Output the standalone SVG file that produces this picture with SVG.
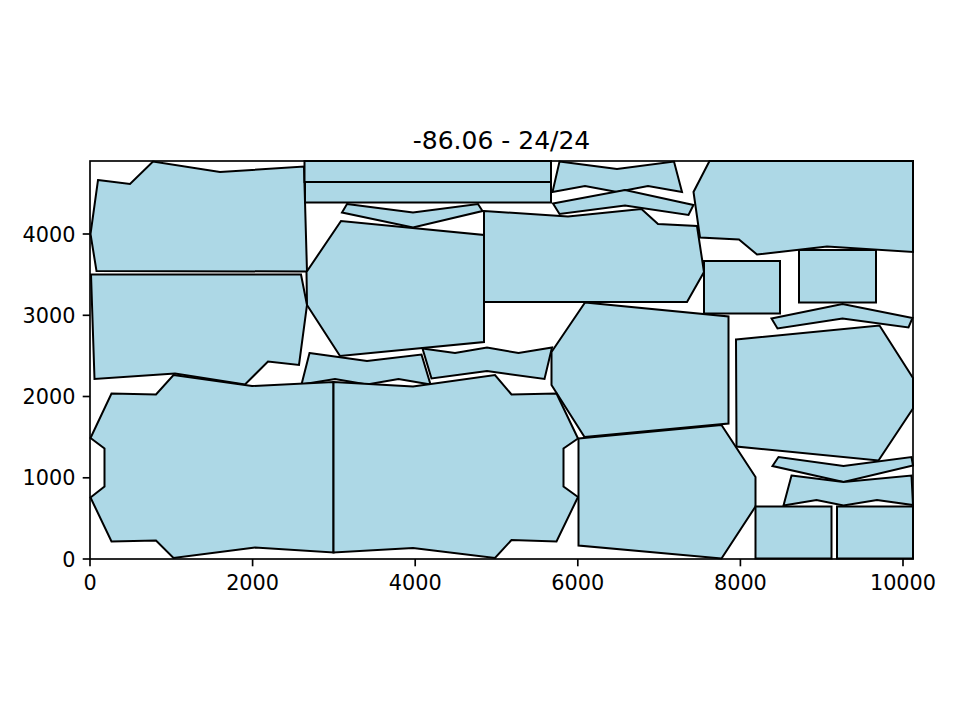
<svg xmlns="http://www.w3.org/2000/svg" width="960" height="720" viewBox="0 0 960 720">
<style>
.p{fill:#add8e6;stroke:#000;stroke-width:2;stroke-linejoin:miter}
.ax{fill:none;stroke:#000;stroke-width:1.67}
.tk{stroke:#000;stroke-width:1.67}
.t{font-family:"DejaVu Sans",sans-serif;font-size:20.8px;fill:#000}
</style>
<rect width="960" height="720" fill="#fff"/>
<g id="pieces">
<polygon id="n1" class="p" points="98,180 130,184 153,161.5 220,172 304,166.5 307,271.5 96.5,271 90.5,234"/>
<polygon id="n2" class="p" points="91,274.5 301,274.5 307,305 299,365 268,361.5 245,384.5 175,373.5 94.5,379"/>
<rect id="n3" class="p" x="304.5" y="161" width="246.5" height="21"/>
<rect id="n4" class="p" x="305" y="182" width="246" height="20.5"/>
<polygon id="n5" class="p" points="347,204 413,212.5 478,204 482.5,211 413,227.5 342,212.5"/>
<polygon id="n6" class="p" points="306.5,272 341,221 484,235 484,342 340,356 307,305"/>
<polygon id="n7" class="p" points="559.5,161.5 617,169 674,161.5 682,192 648,186 617,192 585,186 552.5,192"/>
<polygon id="n8" class="p" points="553,203.5 625,190 693.5,205 688.5,215 625,205.5 559.5,214"/>
<polygon id="n9" class="p" points="484,211 568,216.5 641.5,209 658,224 697,226 704,272 687,302 484,302"/>
<polygon id="n10" class="p" points="709.5,161 913,161 913,252 827,246.5 757,254.5 739,239.5 700,237.5 693.5,192"/>
<rect id="n11" class="p" x="704" y="261" width="76" height="52.5"/>
<rect id="n12" class="p" x="799" y="250" width="77" height="52.5"/>
<polygon id="n13" class="p" points="771.5,318.5 842.5,304 912.5,318 908.5,327.5 842.5,318.5 777.5,328.5"/>
<polygon id="n14" class="p" points="585,302.5 728.5,316.5 728.5,423.5 584.5,437 551.5,385 551.5,352"/>
<polygon id="n15" class="p" points="736,339.5 879.5,325.5 913,378 913,408.5 878.5,460.5 736.5,446.5"/>
<polygon id="n16" class="p" points="309.5,353 367,361 421.5,354.5 430.5,384.5 398.5,379 367,384.5 335,379 301.5,384.5"/>
<polygon id="n17" class="p" points="422.5,348.5 455,353 487,347.5 518.5,353 552,347.5 544.5,379 487,371 431.5,378.5"/>
<polygon id="n18" class="p" points="173.5,375 252,386 333.5,382 333.5,552.5 255,547.5 173.5,558 156,540.5 111.5,541.5 90.5,497.5 104.5,486.5 104.5,448.5 90.5,438 111.5,393.5 156,394.5"/>
<polygon id="n19" class="p" points="333.5,382 413,386.5 495,375 511.5,394.5 556.5,393.5 578,438.5 563.5,448.5 563.5,486.5 578,497 556.5,541.5 511.5,540 495,558 413,548 333.5,552.5"/>
<polygon id="n20" class="p" points="578.5,438.5 721.5,425 755.5,477 755.5,506.5 721.5,558.5 578.5,545.5"/>
<polygon id="n21" class="p" points="772.5,466 778.5,457 843.5,466 911.5,457 913,465.5 843.5,482"/>
<polygon id="n22" class="p" points="791.5,475.5 843.5,482 911.5,475.5 913,505 877,500 843.5,505.5 816.5,500 783.5,505.5"/>
<rect id="n23" class="p" x="755.5" y="506.5" width="76" height="52"/>
<rect id="n24" class="p" x="837" y="506.5" width="76" height="52"/>
</g>
<g id="axes">
<rect class="ax" x="90" y="161" width="823" height="398"/>
<g class="tk">
<line x1="90" y1="559" x2="90" y2="566.3"/>
<line x1="252.6" y1="559" x2="252.6" y2="566.3"/>
<line x1="415.2" y1="559" x2="415.2" y2="566.3"/>
<line x1="577.8" y1="559" x2="577.8" y2="566.3"/>
<line x1="740.4" y1="559" x2="740.4" y2="566.3"/>
<line x1="903" y1="559" x2="903" y2="566.3"/>
<line x1="82.7" y1="559" x2="90" y2="559"/>
<line x1="82.7" y1="477.8" x2="90" y2="477.8"/>
<line x1="82.7" y1="396.5" x2="90" y2="396.5"/>
<line x1="82.7" y1="315.3" x2="90" y2="315.3"/>
<line x1="82.7" y1="234" x2="90" y2="234"/>
</g>
<g class="t" text-anchor="middle">
<text x="90" y="589.5">0</text>
<text x="252.6" y="589.5">2000</text>
<text x="415.2" y="589.5">4000</text>
<text x="577.8" y="589.5">6000</text>
<text x="740.4" y="589.5">8000</text>
<text x="903" y="589.5">10000</text>
</g>
<g class="t" text-anchor="end">
<text x="75.4" y="566.6">0</text>
<text x="75.4" y="485.4">1000</text>
<text x="75.4" y="404.1">2000</text>
<text x="75.4" y="322.9">3000</text>
<text x="75.4" y="241.6">4000</text>
</g>
<text class="t" x="501.5" y="148.5" text-anchor="middle" style="font-size:25px">-86.06 - 24/24</text>
</g>
</svg>
